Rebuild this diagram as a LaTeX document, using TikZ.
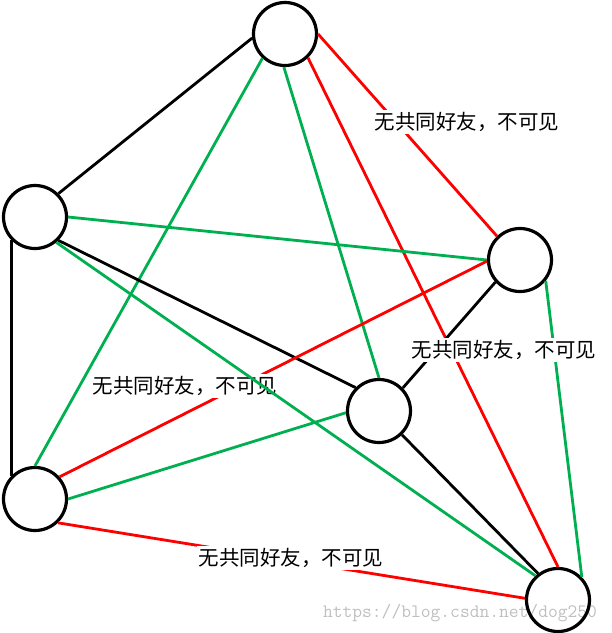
\documentclass[tikz,border=0pt]{standalone}
\usepackage{fontspec}
\newfontfamily\cjk{Noto Sans CJK SC}
\definecolor{edgered}{RGB}{255,0,0}
\definecolor{edgegreen}{RGB}{0,176,80}

\begin{document}
\begin{tikzpicture}[
    x=1pt, y=-1pt,
    person/.style={circle, draw, line width=3.2pt, minimum size=63pt, inner sep=0pt},
    link/.style={line width=2.8pt},
    friend/.style={link, black},
    seen/.style={link, edgegreen},
    unseen/.style={link, edgered},
    note/.style={fill=white, inner sep=2pt, font=\cjk\fontsize{20.5}{22}\selectfont}
]
\useasboundingbox (0,0) rectangle (612,633);

% People
\node[person] (a) at (285,34) {};
\node[person] (b) at (35,217) {};
\node[person] (c) at (520,260) {};
\node[person] (d) at (379,411) {};
\node[person] (e) at (35,499) {};
\node[person] (f) at (558,600) {};

% Links
\draw[friend] (a.187) -- (b.45);
\draw[seen] (a.227) -- (e.90);
\draw[seen] (a.268) -- (d.90);
\draw[unseen] (a.0) -- (c.134);
\draw[unseen] (a.314) -- (f.90);
\draw[seen] (b.0) -- (c.180);
\draw[friend] (b.315) -- (d.135);
\draw[friend] (b.225) -- (e.135);
\draw[unseen] (c.182) -- (e.42);
\draw[friend] (c.222) -- (d.44);
\draw[seen] (c.321) -- (f.44);
\draw[seen] (d.183) -- (e.0);
\draw[friend] (d.314) -- (f.127);
\draw[unseen] (e.314) -- (f.177);

% Labels
\node[note] (l1) at (467,122) {无共同好友，不可见};
\node[note] (l2) at (185,386) {无共同好友，不可见};
\node[note] (l3) at (504,350) {无共同好友，不可见};
\node[note] (l4) at (291,558) {无共同好友，不可见};

\draw[seen] (b.310) -- (f.133);

% Watermark
\node[text=black, text opacity=0.25, font=\ttfamily\fontsize{19}{19}\selectfont] (mark) at (460,613) {https://blog.csdn.net/dog250};
\end{tikzpicture}
\end{document}
